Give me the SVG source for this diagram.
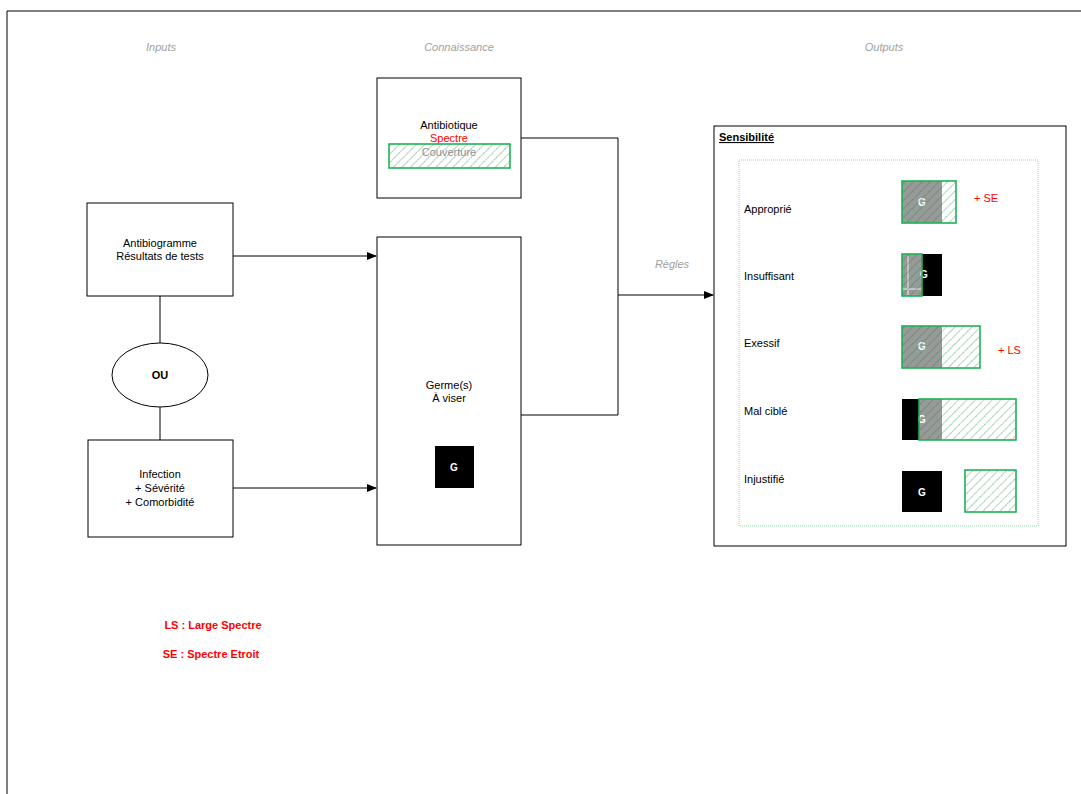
<svg xmlns="http://www.w3.org/2000/svg" width="1081" height="794" viewBox="0 0 1081 794">
<style>
text{font-family:"Liberation Sans",Arial,sans-serif;font-size:11px;fill:#000}
.hdr{font-style:italic;fill:#a0a0a0;text-anchor:middle}
.c{text-anchor:middle}
.red{fill:#ff0000}
.box{fill:#fff;stroke:#000;stroke-width:1}
.conn{fill:none;stroke:#000;stroke-width:1}
.gbox{fill:url(#hatch);stroke:#1fb255;stroke-width:1.6}
.gray{fill:#999}
.blk{fill:#000}
.gw{fill:#fff;font-weight:bold;text-anchor:middle;font-size:10px}
</style>
<defs>
<pattern id="hatch" patternUnits="userSpaceOnUse" width="6" height="6" patternTransform="rotate(45)">
<line x1="0" y1="0" x2="0" y2="6" stroke="#128a40" stroke-width="0.9" stroke-dasharray="1.6,0.7"/>
</pattern>
<marker id="arr" markerWidth="10" markerHeight="8" refX="9" refY="4" orient="auto" markerUnits="userSpaceOnUse">
<path d="M0,0 L10,4 L0,8 z" fill="#000"/>
</marker>
</defs>
<rect width="1081" height="794" fill="#fff"/>
<path d="M7,794 V11 H1081" fill="none" stroke="#000" stroke-width="1"/>
<text class="hdr" x="161" y="51">Inputs</text>
<text class="hdr" x="459" y="51">Connaissance</text>
<text class="hdr" x="884" y="51">Outputs</text>
<text class="hdr" x="672" y="268">Règles</text>

<g id="connectors">
<line class="conn" x1="233" y1="256" x2="376" y2="256" marker-end="url(#arr)"/>
<line class="conn" x1="233" y1="488" x2="376" y2="488" marker-end="url(#arr)"/>
<line class="conn" x1="160" y1="296" x2="160" y2="343"/>
<line class="conn" x1="160" y1="407" x2="160" y2="440"/>
<path class="conn" d="M521,138 H618 V415 H521"/>
<line class="conn" x1="618" y1="295" x2="713" y2="295" marker-end="url(#arr)"/>
</g>

<g id="antibiotique">
<rect class="box" x="377" y="78" width="144" height="120"/>
<text class="c" x="449" y="129">Antibiotique</text>
<text class="c red" x="449" y="142">Spectre</text>
<rect class="gbox" x="389" y="144" width="121" height="24"/>
<text class="c" x="449" y="156" style="fill:#909090">Couverture</text>
</g>

<g id="antibiogramme">
<rect class="box" x="87" y="203" width="146" height="93"/>
<text class="c" x="160" y="247">Antibiogramme</text>
<text class="c" x="160" y="260">Résultats de tests</text>
</g>

<g id="ou">
<ellipse cx="160" cy="375" rx="48" ry="32" fill="#fff" stroke="#000"/>
<text class="c" x="160" y="379" style="font-weight:bold">OU</text>
</g>

<g id="infection">
<rect class="box" x="88" y="440" width="145" height="97"/>
<text class="c" x="160" y="478">Infection</text>
<text class="c" x="160" y="492">+ Sévérité</text>
<text class="c" x="160" y="506">+ Comorbidité</text>
</g>

<g id="germe">
<rect class="box" x="377" y="237" width="144" height="308"/>
<text class="c" x="449" y="389">Germe(s)</text>
<text class="c" x="449" y="402">À viser</text>
<rect class="blk" x="435" y="446" width="39" height="42"/>
<text class="gw" x="454" y="471">G</text>
</g>

<g id="sensibilite">
<rect class="box" x="714" y="126" width="352" height="420"/>
<text x="719" y="141" style="font-weight:bold;text-decoration:underline">Sensibilité</text>
<rect x="739" y="160" width="299" height="366" fill="none" stroke="#8fdcaa" stroke-width="1" stroke-dasharray="1,1"/>
<text x="744" y="213">Approprié</text>
<text x="744" y="280">Insuffisant</text>
<text x="744" y="347">Exessif</text>
<text x="744" y="415">Mal ciblé</text>
<text x="744" y="483">Injustifié</text>

<rect class="gray" x="902" y="181" width="40" height="42"/>
<text class="gw" x="922" y="206">G</text>
<rect class="gbox" x="902" y="181" width="54" height="42"/>
<text class="red" x="974" y="202">+ SE</text>

<rect class="blk" x="902" y="254" width="40" height="42"/>
<rect class="gray" x="902" y="254" width="20" height="42"/>
<text class="gw" x="924" y="278">G</text>
<line x1="908" y1="256" x2="908" y2="295" stroke="#fff" stroke-width="0.8"/>
<line x1="903" y1="289" x2="921" y2="289" stroke="#fff" stroke-width="0.8"/>
<rect class="gbox" x="902" y="254" width="20" height="42"/>

<rect class="gray" x="902" y="326" width="40" height="42"/>
<text class="gw" x="922" y="350">G</text>
<rect class="gbox" x="902" y="326" width="78" height="42"/>
<text class="red" x="998" y="354">+ LS</text>

<rect class="blk" x="902" y="399" width="17" height="41"/>
<rect class="gray" x="919" y="399" width="23" height="41"/>
<text class="gw" x="922" y="423">G</text>
<rect class="gbox" x="919" y="399" width="97" height="41"/>

<rect class="blk" x="902" y="471" width="40" height="41"/>
<text class="gw" x="922" y="496">G</text>
<rect class="gbox" x="965" y="470" width="51" height="42"/>
</g>

<g id="legend">
<text class="c red" x="213" y="629" style="font-weight:bold">LS : Large Spectre</text>
<text class="c red" x="211" y="658" style="font-weight:bold">SE : Spectre Etroit</text>
</g>
</svg>
